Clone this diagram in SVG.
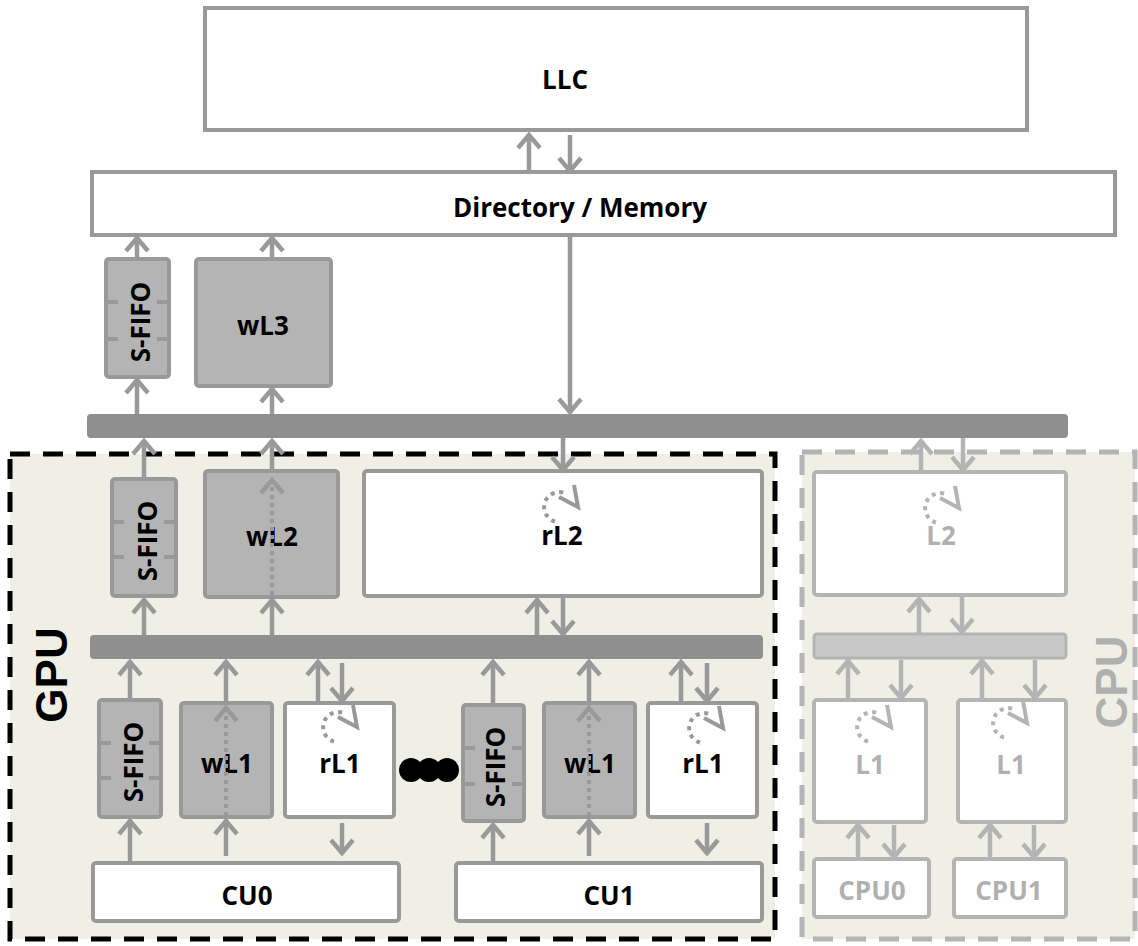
<svg xmlns="http://www.w3.org/2000/svg" xmlns:xlink="http://www.w3.org/1999/xlink" width="1138" height="946" viewBox="0 0 1138 946">
<style>
.box{fill:#fff;stroke:#999;stroke-width:4}
.gbox{fill:#b4b4b4;stroke:#999;stroke-width:4}
.cbox{fill:#fff;stroke:#b4b4b4;stroke-width:4}
.bar{fill:#8f8f8f}
.tick{stroke:#999;stroke-width:4}
.lbl{font-family:"Open Sans","Liberation Sans",sans-serif;font-weight:bold;font-size:26px;fill:#000;text-anchor:middle}
.clbl{font-family:"Open Sans","Liberation Sans",sans-serif;font-weight:bold;font-size:26px;fill:#b0b0b0;text-anchor:middle}
.big{font-family:"Liberation Sans",Arial,sans-serif;font-weight:bold;font-size:44px;text-anchor:middle}
.a{stroke:#999;stroke-width:4.5;fill:none;marker-end:url(#ah)}
.ac{stroke:#b4b4b4;stroke-width:4.5;fill:none;marker-end:url(#ahc)}
.dot{stroke:#999;stroke-width:4;stroke-dasharray:4 4;fill:none;marker-end:url(#ah)}
</style>
<defs>
<marker id="ah" markerUnits="userSpaceOnUse" markerWidth="1" markerHeight="1" orient="auto" overflow="visible"><path d="M-14,-11 L-1,0 L-14,11" fill="none" stroke="#999" stroke-width="4.5"/></marker>
<marker id="ahc" markerUnits="userSpaceOnUse" markerWidth="1" markerHeight="1" orient="auto" overflow="visible"><path d="M-14,-11 L-1,0 L-14,11" fill="none" stroke="#b4b4b4" stroke-width="4.5"/></marker>
<g id="cyc" fill="none" stroke-width="4">
<path d="M-4,14.5 A15 15 0 1 1 8,-12.7" stroke-dasharray="4 4.5"/>
<polyline points="15,-22 19,0 0,-10"/>
</g>
</defs>

<g id="gpu-region">
<rect x="10" y="454" width="765" height="485" fill="#efefe6" stroke="#000" stroke-width="5" stroke-dasharray="20 13"/>
<text class="big" fill="#000" transform="translate(67,675) rotate(-90)">GPU</text>
</g>
<g id="cpu-region">
<rect x="802" y="452" width="333" height="487" fill="#efefe6" stroke="#b4b4b4" stroke-width="5" stroke-dasharray="20 13"/>
<text class="big" fill="#b0b0b0" transform="translate(1127,682) rotate(-90)">CPU</text>
</g>

<g id="llc"><rect class="box" x="205" y="8" width="822" height="122"/><text class="lbl" x="565" y="89">LLC</text></g>
<g id="directory"><rect class="box" x="92" y="172" width="1023" height="63"/><text class="lbl" x="580" y="217">Directory / Memory</text></g>

<g id="sfifo3"><rect class="gbox" x="106" y="259" width="63" height="118" rx="3"/>
<path class="tick" d="M106,302h12M157,302h12M106,339h12M157,339h12"/>
<text class="lbl" transform="translate(150,322) rotate(-90)">S-FIFO</text></g>
<g id="wl3"><rect class="gbox" x="196" y="259" width="135" height="127" rx="3"/><text class="lbl" x="263" y="335">wL3</text></g>

<g id="bus1"><rect class="bar" x="87" y="414" width="981" height="24" rx="4"/></g>

<g id="sfifo2"><rect class="gbox" x="112" y="479" width="64" height="117" rx="3"/>
<path class="tick" d="M112,522h12M164,522h12M112,557h12M164,557h12"/>
<text class="lbl" transform="translate(157,541) rotate(-90)">S-FIFO</text></g>
<g id="wl2"><rect class="gbox" x="205" y="471" width="133" height="126" rx="3"/><text class="lbl" x="272" y="546">wL2</text></g>
<g id="rl2"><rect class="box" x="364" y="471" width="398" height="125" rx="3"/><text class="lbl" x="562" y="545">rL2</text>
<use xlink:href="#cyc" x="559" y="507" stroke="#999"/></g>

<g id="bus2"><rect class="bar" x="90" y="635" width="673" height="24" rx="4"/></g>

<g id="sfifo1a"><rect class="gbox" x="99" y="700" width="62" height="117" rx="3"/>
<path class="tick" d="M99,743h12M149,743h12M99,778h12M149,778h12"/>
<text class="lbl" transform="translate(143,762) rotate(-90)">S-FIFO</text></g>
<g id="wl1a"><rect class="gbox" x="181" y="703" width="91" height="114" rx="3"/><text class="lbl" x="227" y="773">wL1</text></g>
<g id="rl1a"><rect class="box" x="285" y="703" width="109" height="114" rx="3"/><text class="lbl" x="340" y="773">rL1</text>
<use xlink:href="#cyc" x="338" y="727" stroke="#999"/></g>
<g id="ellipsis"><circle cx="411" cy="770" r="12"/><circle cx="429" cy="770" r="12"/><circle cx="447" cy="770" r="12"/></g>
<g id="sfifo1b"><rect class="gbox" x="463" y="705" width="61" height="116" rx="3"/>
<path class="tick" d="M463,748h12M512,748h12M463,784h12M512,784h12"/>
<text class="lbl" transform="translate(505,767) rotate(-90)">S-FIFO</text></g>
<g id="wl1b"><rect class="gbox" x="544" y="703" width="91" height="114" rx="3"/><text class="lbl" x="590" y="773">wL1</text></g>
<g id="rl1b"><rect class="box" x="648" y="703" width="109" height="114" rx="3"/><text class="lbl" x="703" y="773">rL1</text>
<use xlink:href="#cyc" x="704" y="728" stroke="#999"/></g>

<g id="cu0"><rect class="box" x="93" y="863" width="306" height="58" rx="3"/><text class="lbl" x="247" y="905">CU0</text></g>
<g id="cu1"><rect class="box" x="456" y="863" width="306" height="58" rx="3"/><text class="lbl" x="609" y="905">CU1</text></g>

<g id="cpu-l2"><rect class="cbox" x="814" y="472" width="252" height="123" rx="3"/><text class="clbl" x="941" y="545">L2</text>
<use xlink:href="#cyc" x="940" y="508" stroke="#b4b4b4"/></g>
<g id="cpu-bus"><rect x="814" y="634" width="252" height="24" rx="3" fill="#c8c8c8" stroke="#b4b4b4" stroke-width="3"/></g>
<g id="cpu-l1a"><rect class="cbox" x="814" y="700" width="112" height="122" rx="3"/><text class="clbl" x="870" y="774">L1</text>
<use xlink:href="#cyc" x="872" y="727" stroke="#b4b4b4"/></g>
<g id="cpu-l1b"><rect class="cbox" x="958" y="700" width="108" height="122" rx="3"/><text class="clbl" x="1011" y="774">L1</text>
<use xlink:href="#cyc" x="1008" y="723" stroke="#b4b4b4"/></g>
<g id="cpu0"><rect class="cbox" x="814" y="859" width="115" height="58" rx="3"/><text class="clbl" x="872" y="900">CPU0</text></g>
<g id="cpu1"><rect class="cbox" x="954" y="859" width="112" height="58" rx="3"/><text class="clbl" x="1009" y="900">CPU1</text></g>

<g id="connectors">
<line class="a" x1="529" y1="172" x2="529" y2="134"/>
<line class="a" x1="570" y1="135" x2="570" y2="172"/>
<line class="a" x1="137" y1="258" x2="137" y2="237"/>
<line class="a" x1="272" y1="258" x2="272" y2="237"/>
<line class="a" x1="570" y1="237" x2="570" y2="413"/>
<line class="a" x1="137" y1="414" x2="137" y2="379"/>
<line class="a" x1="272" y1="414" x2="272" y2="388"/>
<line class="a" x1="144" y1="477" x2="144" y2="440"/>
<line class="a" x1="272" y1="470" x2="272" y2="440"/>
<line class="a" x1="563" y1="438" x2="563" y2="471"/>
<line class="a" x1="144" y1="635" x2="144" y2="599"/>
<line class="a" x1="272" y1="635" x2="272" y2="599"/>
<line class="a" x1="537" y1="635" x2="537" y2="599"/>
<line class="a" x1="563" y1="598" x2="563" y2="635"/>
<line class="a" x1="130" y1="699" x2="130" y2="661"/>
<line class="a" x1="226" y1="702" x2="226" y2="661"/>
<line class="a" x1="318" y1="702" x2="318" y2="661"/>
<line class="a" x1="342" y1="663" x2="342" y2="702"/>
<line class="a" x1="493" y1="704" x2="493" y2="661"/>
<line class="a" x1="589" y1="702" x2="589" y2="661"/>
<line class="a" x1="681" y1="702" x2="681" y2="661"/>
<line class="a" x1="707" y1="663" x2="707" y2="702"/>
<line class="a" x1="130" y1="862" x2="130" y2="820"/>
<line class="a" x1="226" y1="856" x2="226" y2="820"/>
<line class="a" x1="342" y1="823" x2="342" y2="854"/>
<line class="a" x1="493" y1="862" x2="493" y2="824"/>
<line class="a" x1="589" y1="856" x2="589" y2="820"/>
<line class="a" x1="707" y1="823" x2="707" y2="854"/>
<line class="dot" x1="272" y1="595" x2="272" y2="479"/>
<line class="dot" x1="226" y1="816" x2="226" y2="707"/>
<line class="dot" x1="589" y1="816" x2="589" y2="707"/>
<line class="ac" x1="921" y1="470" x2="921" y2="440"/>
<line class="ac" x1="963" y1="438" x2="963" y2="471"/>
<line class="ac" x1="919" y1="633" x2="919" y2="598"/>
<line class="ac" x1="962" y1="597" x2="962" y2="633"/>
<line class="ac" x1="848" y1="699" x2="848" y2="660"/>
<line class="ac" x1="901" y1="660" x2="901" y2="699"/>
<line class="ac" x1="982" y1="699" x2="982" y2="660"/>
<line class="ac" x1="1035" y1="660" x2="1035" y2="699"/>
<line class="ac" x1="858" y1="858" x2="858" y2="824"/>
<line class="ac" x1="894" y1="825" x2="894" y2="858"/>
<line class="ac" x1="990" y1="858" x2="990" y2="824"/>
<line class="ac" x1="1034" y1="825" x2="1034" y2="858"/>
</g>
</svg>
